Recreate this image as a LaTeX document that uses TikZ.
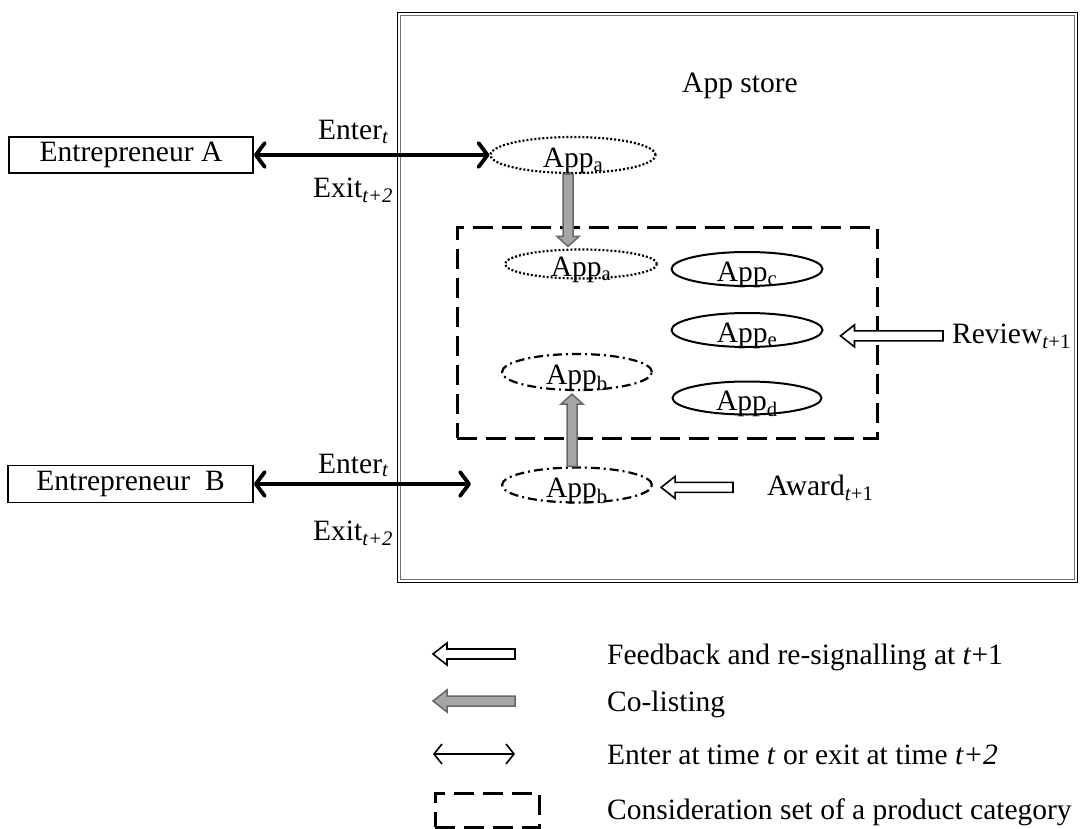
\documentclass[tikz,border=0pt]{standalone}
\usepackage{fontspec}
\setmainfont{Liberation Serif}
\usetikzlibrary{arrows.meta,shapes.geometric,calc}
\newcommand{\blockleft}[3]{%
  \draw[#1] let \p1=(#2), \p2=(#3) in
    (\x1,\y1) -- (\x1+14pt,\y1+11pt) -- (\x1+14pt,\y1+5pt) -- (\x2,\y1+5pt)
    -- (\x2,\y1-5pt) -- (\x1+14pt,\y1-5pt) -- (\x1+14pt,\y1-11pt) -- cycle;}
\begin{document}
\begin{tikzpicture}[x=1pt,y=-1pt,
  every node/.style={font=\fontsize{29.5}{34}\selectfont},
  txt/.style={inner sep=0pt, anchor=base west},
  entbox/.style={draw, line width=1.8pt, minimum width=244pt, minimum height=36pt, inner sep=0pt},
  appell/.style={ellipse, inner sep=0pt, minimum width=151pt, minimum height=34pt},
  applabel/.style={yshift=-6pt, inner sep=0pt},
  solidapp/.style={appell, draw, line width=2pt},
  dotapp/.style={appell, draw, line width=2.2pt, dash pattern=on 2pt off 2pt},
  dashdotapp/.style={appell, draw, line width=2.2pt, dash pattern=on 9pt off 4pt on 2pt off 4pt},
  catbox/.style={draw, line width=3pt, dash pattern=on 20pt off 9pt, inner sep=0pt},
  entarrow/.style={line width=3.6pt, {Straight Barb[length=9pt,width=24pt,line width=3.8pt,round]}-{Straight Barb[length=9pt,width=24pt,line width=3.8pt,round]}},
  thinarrow/.style={line width=1.5pt, {Straight Barb[length=8pt,width=20pt,line width=1.6pt]}-{Straight Barb[length=8pt,width=20pt,line width=1.6pt]}},
  colist/.style={draw=black!60, fill=black!35, line width=1.5pt},
  feedback/.style={draw=black, fill=white, line width=1.6pt},
]
\useasboundingbox (0,0) rectangle (1081,829);

% App store frame
\draw[line width=1.8pt] (397.5,12.5) rectangle (1077.5,582.5);
\draw[line width=1.2pt, black!55] (400.8,15.8) rectangle (1074.2,579.2);
\node[txt, anchor=base] (store) at (740,93) {App store};

% consideration set
\node[catbox, minimum width=420pt, minimum height=211pt] (cset) at (667,332.5) {};

% entrepreneurs
\node[entbox] (entA) at (131,155) {Entrepreneur A};
\node[entbox, minimum width=245pt, minimum height=37pt] (entB) at (130.5,484) {Entrepreneur\ \ B};

% apps
\node[dotapp, minimum width=165pt, minimum height=36pt, label={[applabel]center:App\textsubscript{a}}] (appA1) at (573,155) {};
\node[dotapp, minimum width=152pt, minimum height=29pt, label={[applabel]center:App\textsubscript{a}}] (appA2) at (581,264) {};
\node[solidapp, label={[applabel]center:App\textsubscript{c}}] (appC) at (747,269) {};
\node[solidapp, label={[applabel]center:App\textsubscript{e}}] (appE) at (747,330) {};
\node[solidapp, minimum width=149pt, minimum height=33pt, label={[applabel]center:App\textsubscript{d}}] (appD) at (747,398) {};
\node[dashdotapp, minimum width=150pt, minimum height=36pt, label={[applabel]center:App\textsubscript{b}}] (appB2) at (577,372) {};
\node[dashdotapp, minimum width=150pt, minimum height=35pt, label={[applabel]center:App\textsubscript{b}}] (appB1) at (577,485) {};

% enter / exit
\draw[entarrow] (entA.east) -- (entA.east -| appA1.west);
\draw[entarrow, shorten >=30pt] (entB.east) -- (entB.east -| appB1.west);
\node[txt] (enterA) at (318,140) {Enter\textsubscript{\textit{t}}};
\node[txt] (exitA) at (313,197) {Exit\textsubscript{\textit{t+2}}};
\node[txt] (enterB) at (318,473) {Enter\textsubscript{\textit{t}}};
\node[txt] (exitB) at (313,540) {Exit\textsubscript{\textit{t+2}}};

% co-listing arrows
\draw[colist] let \p1=([xshift=-5pt]appA1.south), \p2=(appA2.north) in
  (\x1-5pt,\y1) -- (\x1-5pt,\y2+12pt) -- (\x1-11pt,\y2+12pt) -- (\x1,\y2+2pt)
  -- (\x1+11pt,\y2+12pt) -- (\x1+5pt,\y2+12pt) -- (\x1+5pt,\y1) -- cycle;
\draw[colist] let \p1=([xshift=-5pt]appB1.north), \p2=(appB2.south) in
  (\x1-5pt,\y1) -- (\x1-5pt,\y2-13pt) -- (\x1-11pt,\y2-13pt) -- (\x1,\y2-3pt)
  -- (\x1+11pt,\y2-13pt) -- (\x1+5pt,\y2-13pt) -- (\x1+5pt,\y1) -- cycle;

% feedback
\node[txt] (review) at (952,343) {Review\textsubscript{\textit{t}+1}};
\node[txt] (award) at (767,495) {Award\textsubscript{\textit{t}+1}};
\blockleft{feedback}{[xshift=17pt]appE.east |- review.west}{[xshift=-9pt]review.west}
\blockleft{feedback}{[xshift=8pt]appB1.east |- award.west}{[xshift=-34pt]award.west}

% legend
\node[txt] (lg1) at (607,664) {Feedback and re-signalling at \textit{t}+1};
\node[txt] (lg2) at (607,711) {Co-listing};
\node[txt] (lg3) at (607,764) {Enter at time \textit{t} or exit at time \textit{t+2}};
\node[txt] (lg4) at (607,819) {Consideration set of a product category};
\coordinate (l1a) at (433,654); \coordinate (l1b) at (515,654);
\coordinate (l2a) at (433,701); \coordinate (l2b) at (515,701);
\coordinate (l3a) at (433,754); \coordinate (l3b) at (515,754);
\blockleft{feedback}{l1a}{l1b}
\blockleft{colist}{l2a}{l2b}
\draw[thinarrow] (l3a) -- (l3b);
\node[catbox, minimum width=104pt, minimum height=34pt] (lgbox) at (487,810) {};
\end{tikzpicture}
\end{document}
